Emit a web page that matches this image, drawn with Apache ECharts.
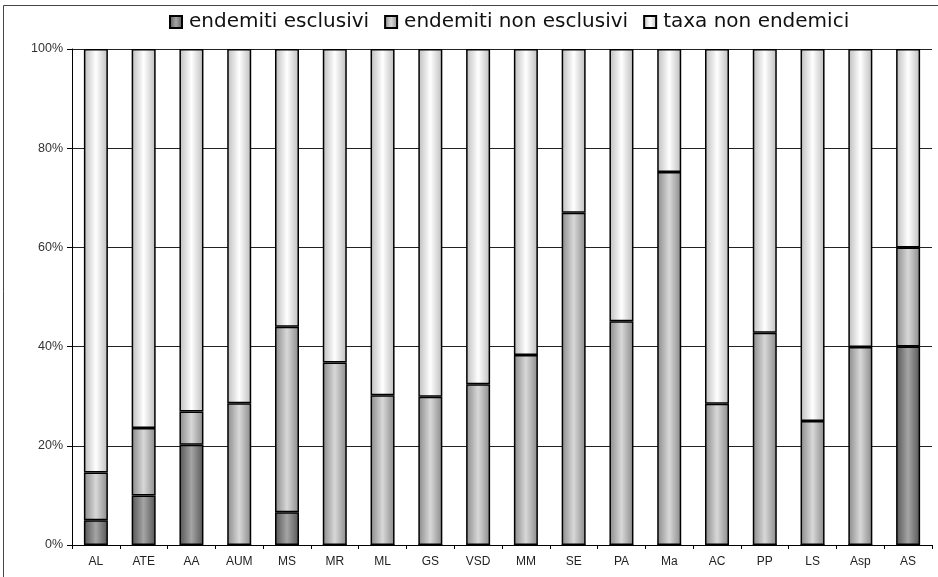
<!DOCTYPE html>
<html>
<head>
<meta charset="utf-8">
<script src="https://cdn.jsdelivr.net/npm/echarts@6/dist/echarts.min.js"></script>
<style>
  html, body { margin: 0; padding: 0; background: #fff; }
  #chart { width: 938px; height: 577px; }
</style>
</head>
<body>
<div id="chart"></div>
<script>
  // categorie (aree)
  var categories = ['AL', 'ATE', 'AA', 'AUM', 'MS', 'MR', 'ML', 'GS', 'VSD', 'MM', 'SE', 'PA', 'Ma', 'AC', 'PP', 'LS', 'Asp', 'AS'];
  // percentuali
  var esclusivi = [5, 10, 20.2, 0, 6.6, 0, 0, 0, 0, 0, 0, 0, 0, 0, 0, 0, 0, 40];
  var nonEsclusivi = [9.6, 13.6, 6.7, 28.6, 37.4, 36.8, 30.2, 29.9, 32.4, 38.3, 67, 45.1, 75.2, 28.5, 42.8, 25, 39.9, 20];
  var nonEndemici = [85.4, 76.4, 73.1, 71.4, 56, 63.2, 69.8, 70.1, 67.6, 61.7, 33, 54.9, 24.8, 71.5, 57.2, 75, 60.1, 40];
  var yTicks = [0, 20, 40, 60, 80, 100];

  var font = 'Liberation Sans, Arial, sans-serif';

  // riempimento a "cilindro": bordi scuri, centro chiaro
  function fill(edge, mid) {
    return new echarts.graphic.LinearGradient(0, 0, 1, 0, [
      { offset: 0, color: edge },
      { offset: 0.5, color: mid },
      { offset: 1, color: edge }
    ]);
  }

  function serie(name, data, edge, mid) {
    return {
      name: name,
      type: 'bar',
      stack: 'tot',
      data: data,
      barWidth: 24,
      itemStyle: {
        color: fill(edge, mid),
        borderColor: '#000',
        borderWidth: 1.5
      },
      emphasis: { disabled: true }
    };
  }

  var myChart = echarts.init(document.getElementById('chart'));
  var option = {
    animation: false,
    textStyle: { fontFamily: font },
    graphic: [{
      type: 'rect',
      shape: { x: 3.5, y: 5.5, width: 960, height: 600 },
      style: { fill: 'none', stroke: '#444', lineWidth: 1 },
      silent: true
    }],
    legend: {
      top: 7,
      left: 164,
      icon: 'rect',
      itemWidth: 12,
      itemHeight: 12,
      itemGap: 15,
      textStyle: { fontSize: 20, color: '#111', fontFamily: 'DejaVu Sans', padding: [0, 0, 0, 2] }
    },
    grid: { left: 72, right: 6, top: 49, bottom: 32 },
    xAxis: {
      type: 'category',
      data: categories,
      axisLine: { lineStyle: { color: '#000', width: 1 } },
      axisTick: { show: true, length: 4, lineStyle: { color: '#000' } },
      axisLabel: { fontSize: 12, color: '#222', margin: 11, interval: 0 }
    },
    yAxis: {
      type: 'value',
      min: 0,
      max: 100,
      interval: 20,
      axisLine: { show: true, lineStyle: { color: '#000' } },
      axisTick: { show: true, length: 5, lineStyle: { color: '#000' } },
      axisLabel: {
        fontSize: 12.5, color: '#333', margin: 9,
        formatter: function (v) { return yTicks.indexOf(v) >= 0 ? v + '%' : ''; }
      },
      splitLine: { show: true, lineStyle: { color: '#222', width: 1 } }
    },
    series: [
      serie('endemiti esclusivi', esclusivi, '#555', '#a5a5a5'),
      serie('endemiti non esclusivi', nonEsclusivi, '#8a8a8a', '#d8d8d8'),
      serie('taxa non endemici', nonEndemici, '#bdbdbd', '#ffffff')
    ]
  };
  myChart.setOption(option);
</script>
</body>
</html>
